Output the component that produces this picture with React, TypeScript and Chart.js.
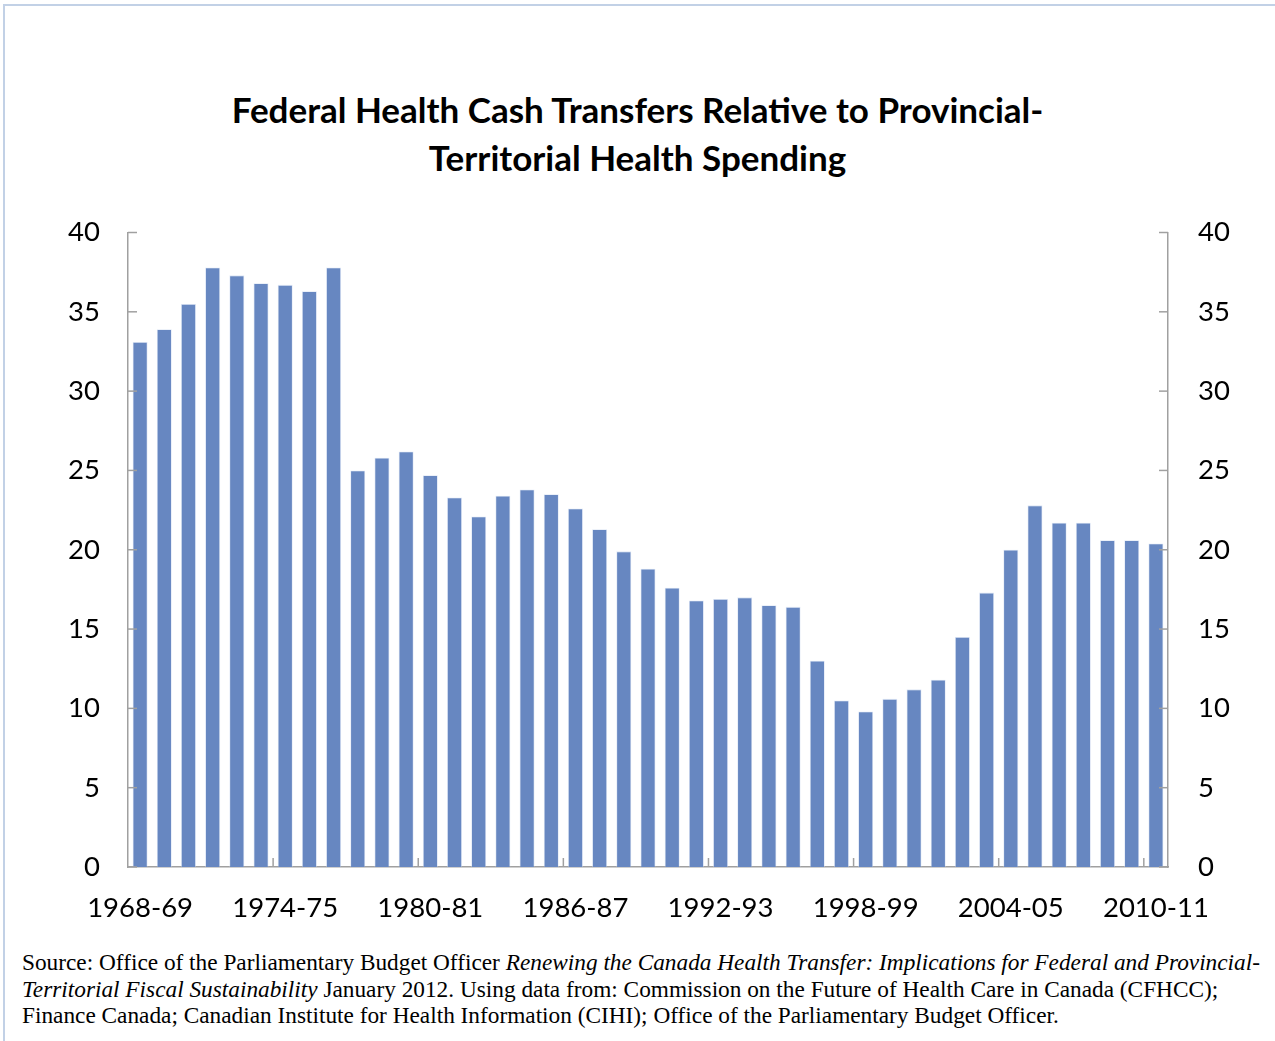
import React, { useEffect, useRef } from "react";
import { Chart, registerables } from "chart.js";

Chart.register(...registerables);

const categories = [
  "1968-69", "1969-70", "1970-71", "1971-72", "1972-73", "1973-74", "1974-75",
  "1975-76", "1976-77", "1977-78", "1978-79", "1979-80", "1980-81", "1981-82",
  "1982-83", "1983-84", "1984-85", "1985-86", "1986-87", "1987-88", "1988-89",
  "1989-90", "1990-91", "1991-92", "1992-93", "1993-94", "1994-95", "1995-96",
  "1996-97", "1997-98", "1998-99", "1999-00", "2000-01", "2001-02", "2002-03",
  "2003-04", "2004-05", "2005-06", "2006-07", "2007-08", "2008-09", "2009-10",
  "2010-11",
];

const transferShare = [
  33.1, 33.9, 35.5, 37.8, 37.3, 36.8, 36.7, 36.3, 37.8, 25.0, 25.8, 26.2, 24.7,
  23.3, 22.1, 23.4, 23.8, 23.5, 22.6, 21.3, 19.9, 18.8, 17.6, 16.8, 16.9, 17.0,
  16.5, 16.4, 13.0, 10.5, 9.8, 10.6, 11.2, 11.8, 14.5, 17.3, 20.0, 22.8, 21.7,
  21.7, 20.6, 20.6, 20.4,
];

const yMin = 0;
const yMax = 40;
const yStep = 5;
const labelEvery = 6;

const BAR_COLOR = "#6787C1";
const AXIS_COLOR = "#a0a0a0";
const TICK_LEN = 9;
const FONT = "Lato, 'Open Sans', sans-serif";

const innerTicks = {
  id: "innerTicks",
  afterDatasetsDraw(chart: any) {
    const { ctx, chartArea, scales } = chart;
    const x = scales.x;
    const y = scales.y;
    const y2 = scales.y2;
    ctx.save();
    ctx.strokeStyle = AXIS_COLOR;
    ctx.lineWidth = 1.5;
    const line = (x1: number, y1: number, x2: number, y2p: number) => {
      ctx.beginPath();
      ctx.moveTo(x1, y1);
      ctx.lineTo(x2, y2p);
      ctx.stroke();
    };
    y.ticks.forEach((_t: any, i: number) => {
      const py = y.getPixelForTick(i);
      line(chartArea.left, py, chartArea.left + TICK_LEN, py);
    });
    y2.ticks.forEach((_t: any, i: number) => {
      const py = y2.getPixelForTick(i);
      line(chartArea.right, py, chartArea.right - TICK_LEN, py);
    });
    const half = (x.getPixelForValue(1) - x.getPixelForValue(0)) / 2;
    for (let i = labelEvery; i < categories.length; i += labelEvery) {
      const px = x.getPixelForValue(i) - half;
      line(px, chartArea.bottom, px, chartArea.bottom - TICK_LEN);
    }
    ctx.restore();
  },
};

export default function App() {
  const canvasRef = useRef<HTMLCanvasElement | null>(null);

  useEffect(() => {
    if (!canvasRef.current) return;
    const tickFont = { family: FONT, size: 27.5 };
    const chart = new Chart(canvasRef.current, {
      type: "bar",
      data: {
        labels: categories,
        datasets: [
          {
            data: transferShare,
            backgroundColor: BAR_COLOR,
            borderColor: "rgba(200,214,238,0.6)",
            borderWidth: 0.8,
            barPercentage: 0.62,
            categoryPercentage: 1,
            yAxisID: "y",
          },
        ],
      },
      options: {
        animation: false,
        responsive: true,
        maintainAspectRatio: false,
        layout: { padding: { top: 0, left: 0, right: 0, bottom: 0 } },
        plugins: {
          legend: { display: false },
          title: { display: false },
          tooltip: { enabled: false },
        },
        scales: {
          x: {
            type: "category",
            offset: true,
            grid: { display: false, drawTicks: false },
            border: { display: true, color: AXIS_COLOR, width: 1.5 },
            ticks: {
              autoSkip: false,
              maxRotation: 0,
              minRotation: 0,
              padding: 25,
              color: "#000",
              font: tickFont,
              callback: (_v: any, i: number) =>
                i % labelEvery === 0 ? categories[i] : "",
            },
            afterFit: (s: any) => {
              s.height = 73;
            },
          },
          y: {
            position: "left",
            min: yMin,
            max: yMax,
            grid: { display: false, drawTicks: false },
            border: { display: true, color: AXIS_COLOR, width: 1.5 },
            ticks: { stepSize: yStep, padding: 28, color: "#000", font: tickFont },
            afterFit: (s: any) => {
              s.width = 128;
            },
          },
          y2: {
            position: "right",
            min: yMin,
            max: yMax,
            grid: { display: false, drawTicks: false },
            border: { display: true, color: AXIS_COLOR, width: 1.5 },
            ticks: { stepSize: yStep, padding: 30, color: "#000", font: tickFont },
            afterFit: (s: any) => {
              s.width = 107;
            },
          },
        },
      },
      plugins: [innerTicks],
    } as any);
    return () => chart.destroy();
  }, []);

  return (
    <div style={{ position: "absolute", left: 0, top: 0, width: 1275, height: 1041, background: "#fff" }}>
      <div
        style={{
          position: "absolute",
          left: 3,
          top: 4,
          width: 1272,
          height: 1037,
          boxSizing: "border-box",
          borderTop: "2px solid #c2d1e6",
          borderLeft: "2px solid #c2d1e6",
        }}
      />
      <div
        style={{
          position: "absolute",
          left: 0,
          top: 85,
          width: 1275,
          textAlign: "center",
          fontFamily: FONT,
          fontWeight: 700,
          fontSize: 35,
          lineHeight: "48px",
          color: "#000",
        }}
      >
        Federal Health Cash Transfers Relative to Provincial-
        <br />
        Territorial Health Spending
      </div>
      <div style={{ position: "absolute", left: 0, top: 186, width: 1275, height: 754 }}>
        <canvas ref={canvasRef} />
      </div>
      <div
        style={{
          position: "absolute",
          left: 22,
          top: 949,
          whiteSpace: "nowrap",
          fontFamily: "'Liberation Serif', 'DejaVu Serif', serif",
          fontSize: 23.3,
          lineHeight: "26.5px",
          color: "#000",
        }}
      >
        Source: Office of the Parliamentary Budget Officer{" "}
        <i>Renewing the Canada Health Transfer: Implications for Federal and Provincial-</i>
        <br />
        <i>Territorial Fiscal Sustainability</i> January 2012. Using data from: Commission on the Future of Health Care in Canada (CFHCC);
        <br />
        Finance Canada; Canadian Institute for Health Information (CIHI); Office of the Parliamentary Budget Officer.
      </div>
    </div>
  );
}
